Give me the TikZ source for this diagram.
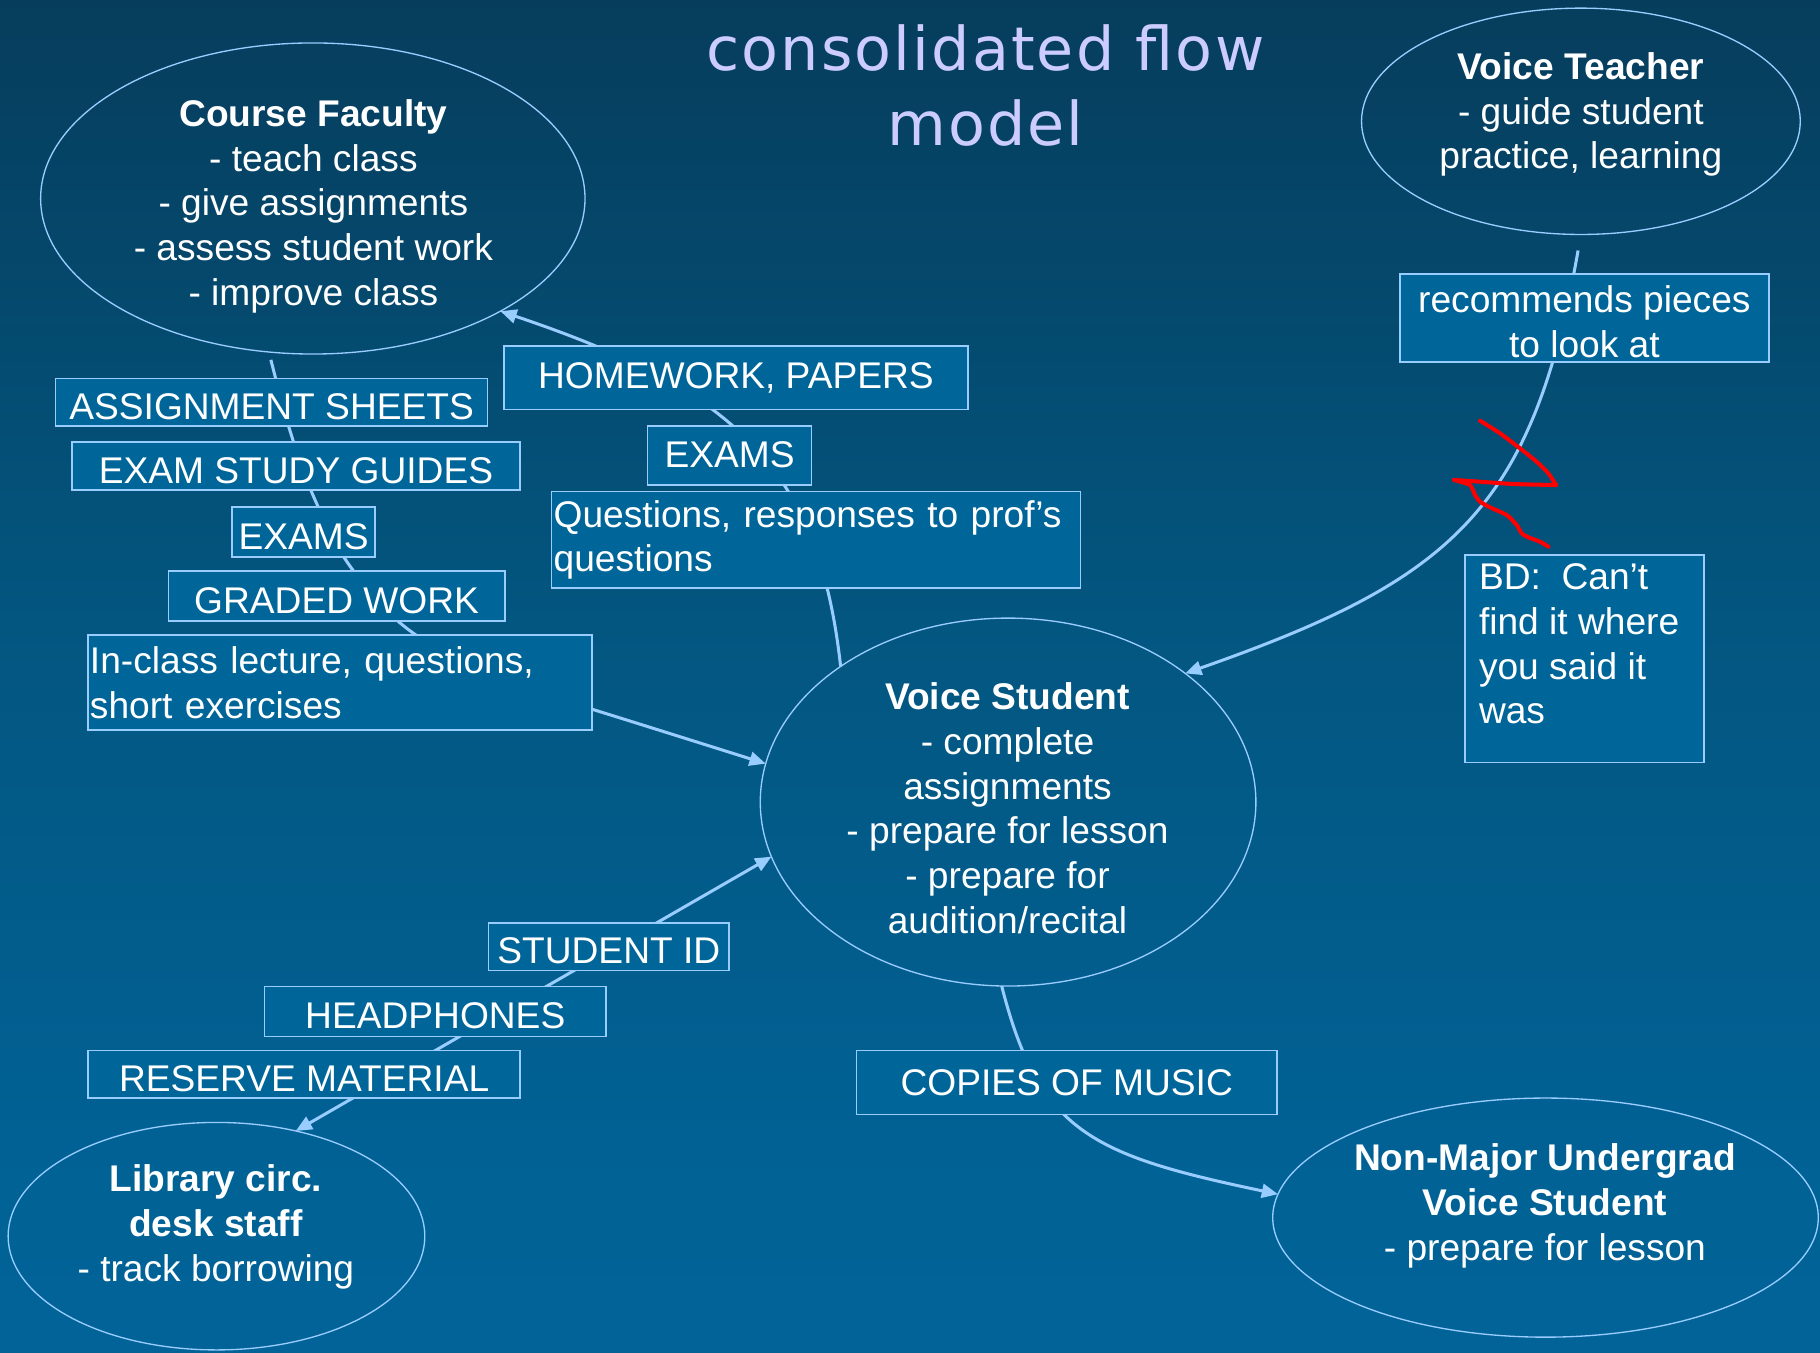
\documentclass[tikz,border=0pt]{standalone}
\usepackage{fontspec}
\setmainfont{Liberation Sans}
\newfontfamily\titlefont[LetterSpace=3.5]{DejaVu Sans}
\usetikzlibrary{arrows.meta,shapes.geometric}
\definecolor{bgA}{RGB}{11,45,70}
\definecolor{bgB}{RGB}{6,62,94}
\definecolor{bgC}{RGB}{3,86,128}
\definecolor{bgD}{RGB}{1,98,150}
\definecolor{bgE}{RGB}{0,103,156}
\definecolor{edge}{RGB}{153,204,255}
\definecolor{boxfill}{RGB}{0,102,153}
\definecolor{titlecol}{RGB}{204,204,255}
\definecolor{scribble}{RGB}{255,0,0}
\pgfdeclarelayer{back}
\pgfdeclarelayer{wires}
\pgfsetlayers{back,wires,main}
\pgfdeclareverticalshading{bgshade}{100bp}{color(0bp)=(bgE); color(31bp)=(bgD); color(52bp)=(bgC); color(74bp)=(bgB); color(100bp)=(bgA)}
\begin{document}
\begin{tikzpicture}[x=1pt, y=-1pt,
  oval/.style={ellipse, draw=edge, line width=1.15pt, inner sep=0pt, outer sep=0pt},
  lbl/.style={rectangle, draw=edge, line width=1.3pt, fill=boxfill, text=white,
    font=\fontsize{32}{38.5}\selectfont, inner sep=0pt, outer sep=0pt, align=center},
  capslbl/.style={lbl, text height=30pt, text depth=0pt},
  ovaltext/.style={anchor=north, text=white, font=\fontsize{32}{38.5}\selectfont,
    inner sep=0pt, align=center},
  flow/.style={draw=edge, line width=2.6pt, -{Triangle[length=14pt,width=12pt]}},
  flowboth/.style={draw=edge, line width=2.6pt,
    {Triangle[length=14pt,width=12pt]}-{Triangle[length=14pt,width=12pt]}},
]
\useasboundingbox (0,0) rectangle (1568,1165);
\begin{pgfonlayer}{back}
\fill[shading=bgshade] (0,0) rectangle (1568,1165);
\end{pgfonlayer}

% title
\node[anchor=north, inner sep=0pt, align=center, text=titlecol,
  font=\titlefont\fontsize{52}{64.7}\selectfont] (title) at (849,20.8) {consolidated flow\\model};

% ellipses
\node[oval, minimum width=469pt, minimum height=268pt] (cf) at (269.5,171) {};
\node[ovaltext] (cft) at (270,85.5) {\textbf{Course Faculty}\\- teach class\\- give assignments\\- assess student work\\- improve class};

\node[oval, minimum width=378pt, minimum height=195pt] (vt) at (1362,104.5) {};
\node[ovaltext] (vtt) at (1362,45.2) {\textbf{Voice Teacher}\\- guide student\\practice, learning};

\node[oval, minimum width=427pt, minimum height=317pt] (vs) at (868.5,691) {};
\node[ovaltext] (vst) at (868,588) {\textbf{Voice Student}\\- complete\\assignments\\- prepare for lesson\\- prepare for\\audition/recital};

\node[oval, minimum width=359pt, minimum height=196pt] (lib) at (186.5,1065) {};
\node[ovaltext] (libt) at (186,1003.3) {\textbf{Library circ.}\\\textbf{desk staff}\\- track borrowing};

\node[oval, minimum width=470pt, minimum height=206pt] (nm) at (1331.5,1049) {};
\node[ovaltext] (nmt) at (1331,985.2) {\textbf{Non-Major Undergrad}\\\textbf{Voice Student}\\- prepare for lesson};

% label boxes
\node[capslbl, minimum width=372pt, minimum height=41pt] (as) at (234,346.5) {ASSIGNMENT SHEETS};
\node[capslbl, minimum width=386pt, minimum height=41pt] (esg) at (255,401.5) {EXAM STUDY GUIDES};
\node[capslbl, minimum width=123pt, minimum height=43pt] (exa) at (261.5,458.5) {EXAMS};
\node[capslbl, minimum width=290pt, minimum height=43pt] (gw) at (290,513.5) {GRADED WORK};
\node[lbl, minimum height=82pt, text width=431pt, inner xsep=1.5pt, align=left] (icl) at (293,588)
  {In-class lecture, questions,\\short exercises};
\node[lbl, minimum width=400pt, minimum height=55pt] (hw) at (634,325.5) {HOMEWORK, PAPERS};
\node[lbl, text height=20pt, text depth=0pt, minimum width=141pt, minimum height=51pt] (exb) at (628.5,392.5) {EXAMS};
\node[lbl, minimum height=83pt, text width=452pt, inner xsep=2pt, align=left] (q) at (703,465)
  {Questions, responses to prof’s\\questions};
\node[lbl, minimum width=318pt, minimum height=76pt] (rec) at (1365,274) {};
\node[anchor=north, inner sep=0pt, align=center, text=white, font=\fontsize{32}{38.5}\selectfont]
  (rect) at ([yshift=-9.7pt]rec.north) {recommends pieces\\to look at};
\node[lbl, minimum width=206pt, minimum height=179pt] (bd) at (1365,567.5) {};
\node[anchor=north west, inner sep=0pt, align=left, text=white, font=\fontsize{32}{38.5}\selectfont]
  (bdt) at ([shift={(12,7.5)}]bd.north west) {BD:\ \ Can’t\\find it where\\you said it\\was};
\node[capslbl, minimum width=207pt, minimum height=41pt] (sid) at (524.5,815.5) {STUDENT ID};
\node[capslbl, minimum width=294pt, minimum height=43pt] (hp) at (375,871.5) {HEADPHONES};
\node[capslbl, minimum width=372pt, minimum height=41pt] (rm) at (262,925.5) {RESERVE MATERIAL};
\node[lbl, minimum width=362pt, minimum height=55pt] (com) at (919,932.5) {COPIES OF MUSIC};

% connectors (behind boxes)
\begin{pgfonlayer}{wires}
\draw[flow, shorten <=7pt] plot[smooth, tension=0.55] coordinates
  {(cf.-106) (252,378) (272,432) (301,487) (350,541) (430,587) (510,611) (vs.171)};
\draw[flow] (vs.141) .. controls (705,400) and (630,335) .. (cf.-31);
\draw[flow, shorten <=14pt] (vt.south) .. controls (1320,440) and (1250,500) .. (vs.36);
\draw[flow] (vs.-92) .. controls (895,975) and (940,995) .. (nm.175);
\draw[flowboth] (lib.53) -- (vs.193);
\end{pgfonlayer}

% red freehand mark
\draw[scribble, line width=3.5pt, line cap=round, line join=round]
  plot[smooth, tension=0.35] coordinates {(1275.1,362.4) (1292.3,373.3) (1309.6,386.3) (1323.9,397.8)
  (1334,407.8) (1340.6,417.9)};
\draw[scribble, line width=3.5pt, line cap=round, line join=round]
  plot[smooth, tension=0.35] coordinates {(1340.6,417.9) (1303.8,417) (1275.1,415) (1252.7,413.5)};
\draw[scribble, line width=3.5pt, line cap=round, line join=round]
  plot[smooth, tension=0.35] coordinates {(1252.7,413.5) (1266.5,417.9) (1270.8,426.5) (1275.1,432.2)
  (1283.7,437.1) (1298.1,443.7) (1306.7,452.3) (1311,459.5) (1316.7,462.9) (1326.8,466.7) (1334,471)};
\end{tikzpicture}
\end{document}
